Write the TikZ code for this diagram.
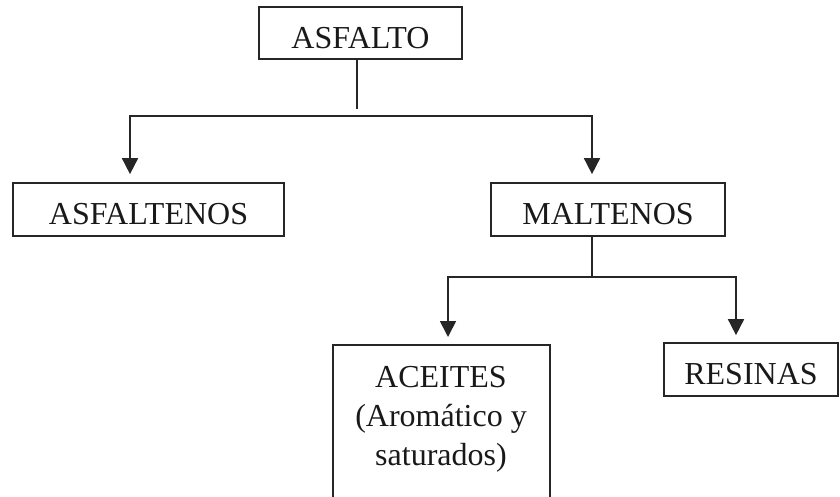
\documentclass[tikz,border=0pt]{standalone}
\usepackage{fontspec}
\setmainfont{Liberation Serif}
\usetikzlibrary{arrows.meta}
\begin{document}
\begin{tikzpicture}[x=1pt,y=-1pt,
  boxst/.style={draw=black!85,line width=1.7pt,rectangle,inner sep=0pt,
    font=\fontsize{32}{39}\selectfont,text=black!90},
  conn/.style={draw=black!85,line width=1.7pt},
  arr/.style={conn,-{Triangle[length=16pt,width=16pt]}}]
\useasboundingbox (0,0) rectangle (840,496);
\clip (0,0) rectangle (840,496);
% boxes
\node[boxst,minimum width=203pt,text height=41pt,text depth=11pt] (asfalto) at (360.5,33) {ASFALTO};
\node[boxst,minimum width=271pt,text height=41pt,text depth=12pt] (asfaltenos) at (148.5,209.5) {ASFALTENOS};
\node[boxst,minimum width=234pt,text height=41pt,text depth=12pt] (maltenos) at (608,209.5) {MALTENOS};
\node[boxst,minimum width=174pt,text height=41pt,text depth=12pt] (resinas) at (751,369.5) {RESINAS};
\node[boxst,minimum width=217pt,minimum height=190pt,anchor=north] (aceites) at (441.5,344) {};
\node[font=\fontsize{32}{39}\selectfont,text=black!90,align=center,inner sep=0pt,anchor=north] (aceitestxt) at (441,365.8) {ACEITES\\(Aromático y\\saturados)};
% junction points
\coordinate (j1) at (357,109);
\coordinate (hl) at (130,116);
\coordinate (hr) at (592,116);
\coordinate (m1) at (592,236);
\coordinate (j2) at (592,277);
\coordinate (gl) at (448,277);
\coordinate (gr) at (736,277);
% connectors level 1
\draw[conn] (asfalto.south -| j1) -- (j1);
\draw[arr,shorten >=8pt] (hr) -- (hl) -- (hl |- asfaltenos.north);
\draw[arr,shorten >=8pt] (hl) -- (hr) -- (hr |- maltenos.north);
% connectors level 2
\draw[conn] (m1) -- (j2);
\draw[arr,shorten >=7pt] (gr) -- (gl) -- (gl |- aceites.north);
\draw[arr,shorten >=7pt] (gl) -- (gr) -- (gr |- resinas.north);
\end{tikzpicture}
\end{document}
